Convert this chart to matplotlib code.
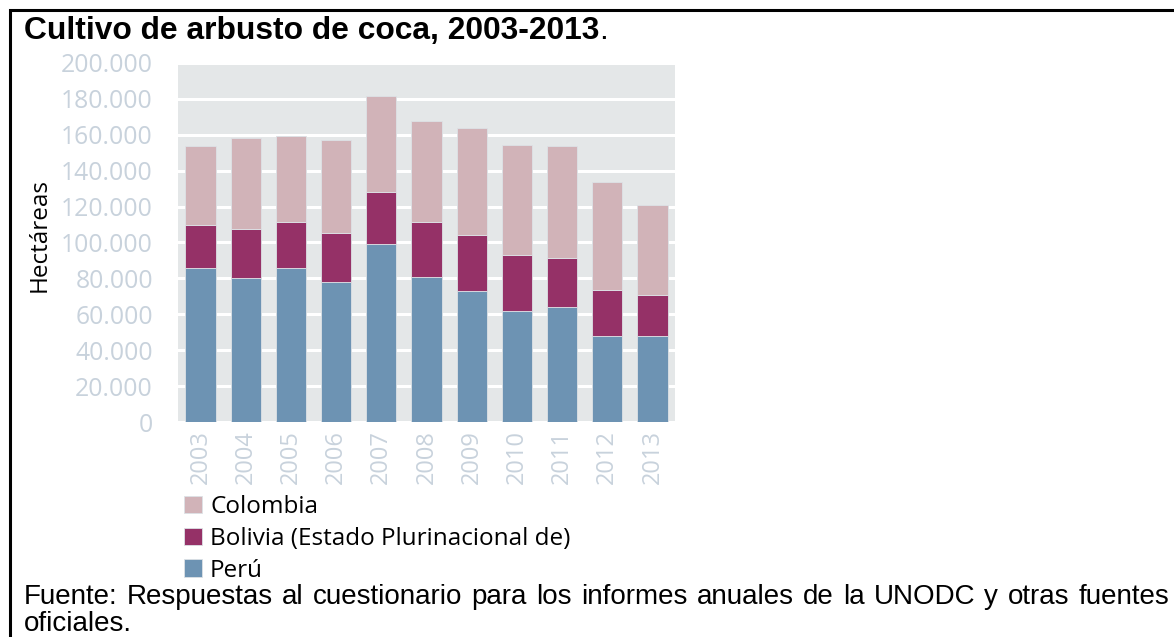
import matplotlib
matplotlib.use("Agg")
import matplotlib.pyplot as plt
from matplotlib.patches import Rectangle
from matplotlib.ticker import FuncFormatter
import numpy as np

years = ["2003", "2004", "2005", "2006", "2007", "2008",
         "2009", "2010", "2011", "2012", "2013"]
peru     = [86000, 80000, 86000, 78000, 99000, 81000, 73000, 62000, 64000, 48000, 48000]
bolivia  = [23600, 27700, 25400, 27500, 28900, 30500, 30900, 31000, 27200, 25300, 23000]
colombia = [44200, 50300, 48200, 51400, 53700, 56100, 59900, 61200, 62500, 60400, 49800]

C_PERU = "#6d93b3"
C_BOL  = "#953167"
C_COL  = "#d1b3b8"
TICK_C = "#c8d2dc"

W, H = 1174, 637
fig = plt.figure(figsize=(W / 100, H / 100), dpi=100)
renderer = fig.canvas.get_renderer()

# frame round the whole figure (cut at right and bottom)
fig.add_artist(Rectangle((10 / W, -0.05), 1.1, 1 - 10 / H + 0.05,
                         transform=fig.transFigure, fill=False,
                         edgecolor="black", linewidth=2.2))

title = fig.text(24 / W, 1 - 31 / H, "Cultivo de arbusto de coca, 2003-2013",
                 fontsize=22.9, fontweight="bold", family="Liberation Sans",
                 va="center", ha="left")
tw = title.get_window_extent(renderer).width
fig.text((24 + tw) / W, 1 - 31 / H, ".", fontsize=22.9,
         family="Liberation Sans", va="center", ha="left")

ax = fig.add_axes([178 / W, 1 - 422 / H, 497 / W, 359 / H])
ax.set_facecolor("#e4e7e8")
x = np.arange(len(years))
p = np.array(peru)
b = np.array(bolivia)
c = np.array(colombia)
kw = dict(width=0.67, edgecolor="#dde2e6", linewidth=0.6, zorder=3)
h1 = ax.bar(x, p, color=C_PERU, label="Perú", **kw)
h2 = ax.bar(x, b, bottom=p, color=C_BOL, label="Bolivia (Estado Plurinacional de)", **kw)
h3 = ax.bar(x, c, bottom=p + b, color=C_COL, label="Colombia", **kw)

ax.set_xlim(-0.5, len(years) - 0.5)
ax.set_ylim(0, 200000)
ax.set_yticks(np.arange(0, 200001, 20000))
ax.yaxis.set_major_formatter(FuncFormatter(
    lambda v, pos: "0" if v == 0 else f"{int(v):,}".replace(",", ".")))
ax.grid(axis="y", color="white", linewidth=2.2, zorder=1)
ax.set_axisbelow(True)
for s in ax.spines.values():
    s.set_visible(False)
ax.tick_params(length=0)
ax.tick_params(axis="y", pad=18, labelcolor=TICK_C, labelsize=17.8)
ax.set_xticks(x)
ax.set_xticklabels(years, rotation=90, family="Open Sans",
                   fontsize=17, color=TICK_C)
ax.tick_params(axis="x", pad=6)
for lab in ax.get_yticklabels():
    lab.set_family("Open Sans")
ax.set_ylabel("Hectáreas", family="Open Sans", fontsize=17.5)
ax.yaxis.set_label_coords(-0.254, 0.52)

fig.legend(handles=[h3, h2, h1], loc="upper left",
           bbox_to_anchor=(184 / W, 1 - 495 / H), frameon=False,
           prop={"family": "Open Sans", "size": 17.5},
           handlelength=0.72, handleheight=0.72, handletextpad=0.35,
           labelspacing=0.32, borderpad=0, borderaxespad=0)

# justified source note
words = ("Fuente: Respuestas al cuestionario para los informes anuales "
         "de la UNODC y otras fuentes").split()
arts = [fig.text(0, 1 - 597 / H, w_, fontsize=20, family="Liberation Sans",
                 va="center", ha="left") for w_ in words]
widths = [a.get_window_extent(renderer).width for a in arts]
x0, x1 = 24, 1169
gap = (x1 - x0 - sum(widths)) / (len(words) - 1)
pos = x0
for a, wd in zip(arts, widths):
    a.set_x(pos / W)
    pos += wd + gap
fig.text(24 / W, 1 - 624 / H, "oficiales.", fontsize=20,
         family="Liberation Sans", va="center", ha="left")

fig.savefig("out.png", dpi=100)
